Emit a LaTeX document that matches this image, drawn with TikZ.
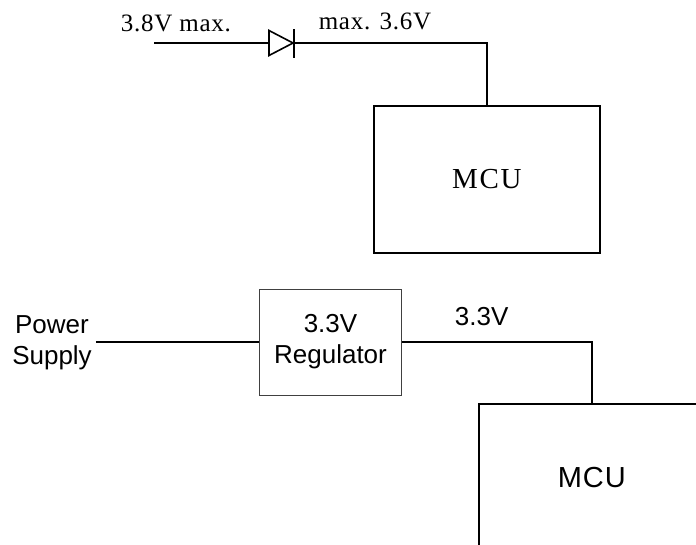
\documentclass[tikz,border=0pt]{standalone}
\usepackage{fontspec}
\setmainfont{Liberation Serif}
\setsansfont{Liberation Sans}

\begin{document}
\begin{tikzpicture}[x=1pt,y=-1pt,line width=1.6pt,
box/.style={draw,inner sep=0pt,anchor=north west,minimum width=226pt,minimum height=147pt},
serif/.style={font=\fontsize{25}{30}\selectfont\addfontfeatures{LetterSpace=3}},
sans/.style={font=\sffamily\fontsize{26}{31}\selectfont,align=center}]
\useasboundingbox (0,0) rectangle (696,544);
% diode feed
\coordinate (vin) at (154,43);
\coordinate (da) at (269,43);
\coordinate (dk) at (294,43);
\node[box,font=\fontsize{29}{33}\selectfont\addfontfeatures{LetterSpace=6}] (mcuA) at (373,105) {MCU};
\draw (vin) -- node[serif,pos=0.19,above=7pt] (vmax) {3.8V max.} (da);
\draw ([yshift=12.5pt]da) -- ([xshift=-1pt]dk) -- ([yshift=-12.5pt]da) -- cycle;
\draw ([yshift=14pt]dk) -- ([yshift=-15pt]dk);
\draw (dk) -| node[serif,pos=0.21,above=9pt] (vout) {max. 3.6V} (mcuA.north);
% regulator feed
\node[sans] (ps) at (52,343) {Power\\Supply};
\node[sans,draw=black!75,line width=1pt,minimum width=142pt,minimum height=106pt] (reg) at (330.5,342) {3.3V\\Regulator};
\node[box,font=\sffamily\fontsize{29}{33}\selectfont\addfontfeatures{LetterSpace=3}] (mcuB) at (478,403) {MCU};
\draw (reg.west -| ps.east) -- (reg.west);
\draw (reg.east) -| node[sans,pos=0.21,above=12pt] (vreg) {3.3V} (mcuB.north);
\end{tikzpicture}
\end{document}
